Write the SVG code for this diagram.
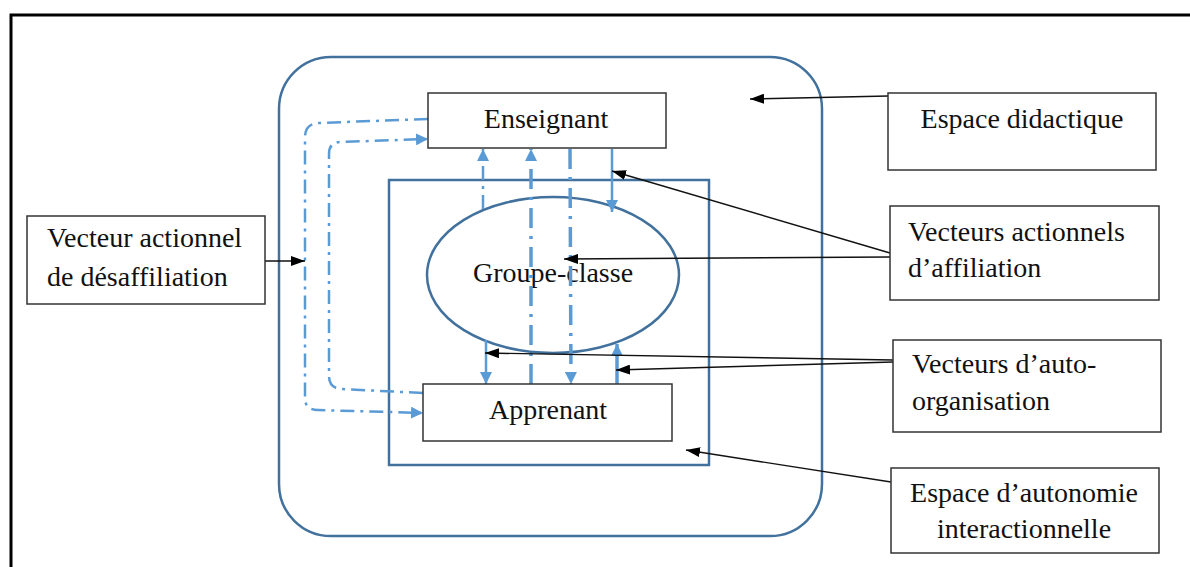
<svg xmlns="http://www.w3.org/2000/svg" width="1190" height="567" viewBox="0 0 1190 567">
  <style>
    .frame { fill: none; stroke: #000; stroke-width: 3; }
    .space { fill: none; stroke: #41719C; stroke-width: 2.5; }
    .box { fill: #fff; stroke: #333; stroke-width: 1.5; }
    .lbl { font-family: "Liberation Serif", "Times New Roman", serif; font-size: 28px; fill: #111; }
    .mid { text-anchor: middle; }
    .vec { fill: none; stroke: #5B9BD5; stroke-width: 2.5; }
    .dd { stroke-dasharray: 14 6 3 6; }
    .thick { stroke-width: 3.5; stroke-dasharray: 20 8 3 8; }
    .call { fill: none; stroke: #111; stroke-width: 1.4; }
  </style>
  <defs>
    <marker id="blueHead" viewBox="0 0 12 12" refX="12" refY="6" markerWidth="12" markerHeight="12" markerUnits="userSpaceOnUse" orient="auto">
      <path d="M0,0 L12,6 L0,12 z" fill="#5B9BD5"/>
    </marker>
    <marker id="blackHead" viewBox="0 0 14 10" refX="14" refY="5" markerWidth="14" markerHeight="10" markerUnits="userSpaceOnUse" orient="auto">
      <path d="M0,0 L14,5 L0,10 z" fill="#000"/>
    </marker>
  </defs>

  <rect width="1190" height="567" fill="#fff"/>
  <!-- page frame -->
  <rect class="frame" x="11" y="15" width="1200" height="600"/>

  <!-- nested spaces -->
  <g id="espace-didactique-zone">
    <rect class="space" x="279" y="57" width="543" height="479" rx="52" ry="52"/>
  </g>
  <g id="espace-autonomie-zone">
    <rect class="space" x="389" y="180" width="320" height="285"/>
  </g>
  <g id="groupe-classe">
    <ellipse class="space" cx="553" cy="275" rx="126" ry="78"/>
    <text class="lbl mid" x="553" y="282">Groupe-classe</text>
  </g>

  <!-- vectors and callouts -->
  <g id="connectors">
    <!-- désaffiliation loops -->
    <path class="vec dd" d="M428,119 L318,123 Q305,124 305,137 L305,398 Q305,410 318,410 L423,413" marker-end="url(#blueHead)"/>
    <path class="vec dd" d="M423,393 L341,389 Q329,388 329,376 L329,154 Q329,142 341,142 L428,139" marker-end="url(#blueHead)"/>
    <!-- vertical vectors -->
    <path class="vec dd" d="M483,209 L483,149" marker-end="url(#blueHead)"/>
    <path class="vec" d="M486,340 L486,384" marker-end="url(#blueHead)"/>
    <path class="vec thick" d="M531,384 L531,149" marker-end="url(#blueHead)"/>
    <path class="vec thick" d="M570,149 L571,384" marker-end="url(#blueHead)"/>
    <path class="vec" d="M612,149 L612,212" marker-end="url(#blueHead)"/>
    <path class="vec" style="stroke-width:3.5" d="M617,384 L617,344" marker-end="url(#blueHead)"/>

    <!-- callout arrows -->
    <path class="call" d="M888,96 L750,99" marker-end="url(#blackHead)"/>
    <path class="call" d="M890,253 L612,171" marker-end="url(#blackHead)"/>
    <path class="call" d="M890,257 L564,259" marker-end="url(#blackHead)"/>
    <path class="call" d="M893,360 L485,353" marker-end="url(#blackHead)"/>
    <path class="call" d="M893,362 L616,370" marker-end="url(#blackHead)"/>
    <path class="call" d="M891,482 L686,450" marker-end="url(#blackHead)"/>
    <path class="call" d="M265,261 L305,261" marker-end="url(#blackHead)"/>
  </g>

  <g id="enseignant">
    <rect class="box" x="428" y="93" width="238" height="55"/>
    <text class="lbl mid" x="546" y="128">Enseignant</text>
  </g>
  <g id="apprenant">
    <rect class="box" x="423" y="384" width="249" height="57"/>
    <text class="lbl mid" x="548" y="419">Apprenant</text>
  </g>

  <g id="label-espace-didactique">
    <rect class="box" x="888" y="93" width="268" height="77"/>
    <text class="lbl mid" x="1022" y="128">Espace didactique</text>
  </g>
  <g id="label-affiliation">
    <rect class="box" x="890" y="206" width="269" height="94"/>
    <text class="lbl" x="908" y="241">Vecteurs actionnels</text>
    <text class="lbl" x="908" y="277">d’affiliation</text>
  </g>
  <g id="label-auto-organisation">
    <rect class="box" x="893" y="340" width="268" height="92"/>
    <text class="lbl" x="912" y="373">Vecteurs d’auto-</text>
    <text class="lbl" x="912" y="410">organisation</text>
  </g>
  <g id="label-autonomie">
    <rect class="box" x="891" y="468" width="268" height="85"/>
    <text class="lbl mid" x="1024" y="502">Espace d’autonomie</text>
    <text class="lbl mid" x="1024" y="538">interactionnelle</text>
  </g>
  <g id="label-desaffiliation">
    <rect class="box" x="27" y="216" width="238" height="88"/>
    <text class="lbl" x="47" y="247">Vecteur actionnel</text>
    <text class="lbl" x="47" y="286">de désaffiliation</text>
  </g>
</svg>
